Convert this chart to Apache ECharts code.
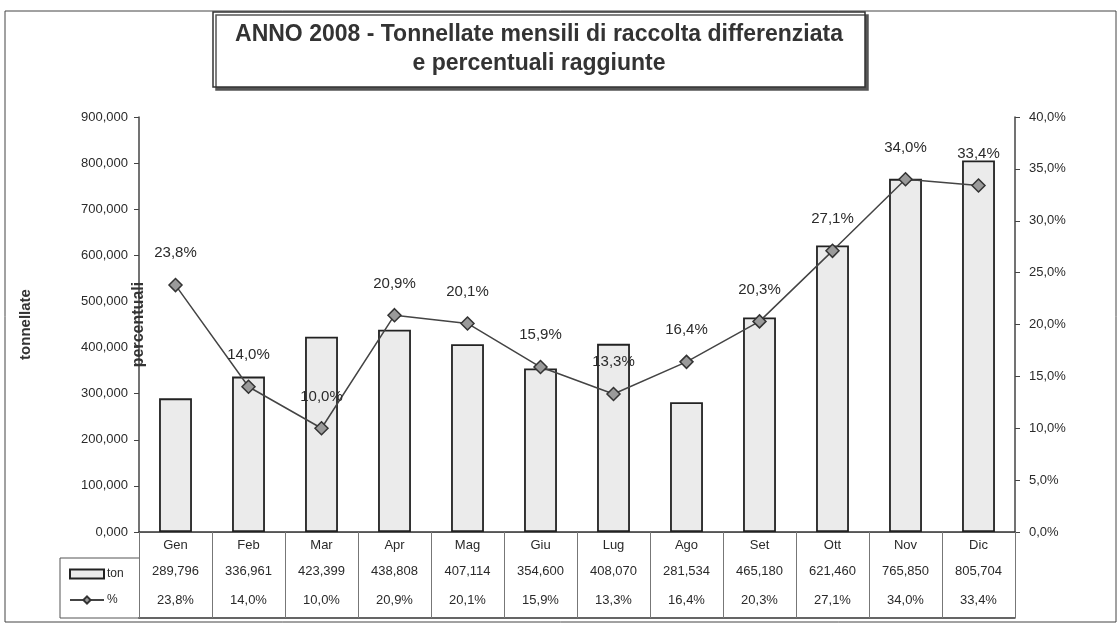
<!DOCTYPE html>
<html>
<head>
<meta charset="utf-8">
<title>ANNO 2008</title>
<script src="https://cdn.jsdelivr.net/npm/echarts@6/dist/echarts.min.js"></script>
<style>
    html, body {margin: 0; padding: 0; background: #fff;}
    #main {width: 1119px; height: 626px;}
</style>
</head>
<body>
<div id="main"></div>
<script>
// dati
var mesi = ['Gen', 'Feb', 'Mar', 'Apr', 'Mag', 'Giu', 'Lug', 'Ago', 'Set', 'Ott', 'Nov', 'Dic'];
var tonnellate = [289.796, 336.961, 423.399, 438.808, 407.114, 354.600, 408.070, 281.534, 465.180, 621.460, 765.850, 805.704];
var percentuali = [23.8, 14.0, 10.0, 20.9, 20.1, 15.9, 13.3, 16.4, 20.3, 27.1, 34.0, 33.4];
var tickTon = [0, 100, 200, 300, 400, 500, 600, 700, 800, 900];
var tickPerc = [0, 5, 10, 15, 20, 25, 30, 35, 40];

(function (echarts) {
    var fmtTon = function (v) {
        return Number(v).toFixed(3).replace('.', ',');
    };
    var fmtPerc = function (v) {
        return Number(v).toFixed(1).replace('.', ',') + '%';
    };
    var font = 'Arial, "Liberation Sans", sans-serif';
    var txt = '#2a2a2a';

    var chart = echarts.init(document.getElementById('main'));

    //righe della tabella sotto il grafico
    var rigaTon = tonnellate.map(fmtTon);
    var rigaPerc = percentuali.map(fmtPerc);

    var option = {
        backgroundColor: '#fff',
        animation: false,
        title: {
            text: 'ANNO 2008 - Tonnellate mensili di raccolta differenziata\ne percentuali raggiunte',
            left: 517,
            top: 12,
            textAlign: 'center',
            padding: [8, 22, 9, 22],
            borderColor: '#333',
            borderWidth: 1.5,
            backgroundColor: '#fff',
            shadowColor: '#555',
            shadowOffsetX: 3,
            shadowOffsetY: 3,
            shadowBlur: 0,
            textStyle: {
                fontFamily: font,
                fontSize: 23,
                fontWeight: 'bold',
                color: '#333',
                lineHeight: 29
            }
        },
        legend: {
            orient: 'vertical',
            left: 64,
            top: 563,
            itemWidth: 34,
            itemHeight: 9,
            itemGap: 14,
            textStyle: {fontFamily: font, fontSize: 12, color: txt, padding: [0, 0, 0, -2]},
            data: [{name: 'ton', icon: 'rect'}, {name: '%'}]
        },
        grid: {left: 139, right: 104, top: 117, bottom: 94},
        xAxis: [
            {
                type: 'category',
                data: mesi,
                position: 'bottom',
                axisLine: {lineStyle: {color: '#333', width: 1.5}},
                axisTick: {show: true, interval: 0, length: 86, lineStyle: {color: '#777', width: 1}},
                axisLabel: {interval: 0, margin: 7, fontFamily: font, fontSize: 13, color: txt}
            },
            {
                type: 'category',
                data: rigaTon,
                position: 'bottom',
                offset: 26,
                axisLine: {lineStyle: {color: '#555', width: 1}},
                axisTick: {show: false},
                axisLabel: {interval: 0, margin: 7, fontFamily: font, fontSize: 13, color: txt}
            },
            {
                type: 'category',
                data: rigaPerc,
                position: 'bottom',
                offset: 55,
                axisLine: {show: false},
                axisTick: {show: false},
                axisLabel: {interval: 0, margin: 7, fontFamily: font, fontSize: 13, color: txt}
            },
            {
                type: 'category',
                data: mesi,
                position: 'bottom',
                offset: 86,
                axisLine: {lineStyle: {color: '#333', width: 1.5}},
                axisTick: {show: false},
                axisLabel: {show: false}
            }
        ],
        yAxis: [
            {
                type: 'value',
                min: tickTon[0],
                max: tickTon[tickTon.length - 1],
                interval: tickTon[1] - tickTon[0],
                name: 'tonnellate',
                nameLocation: 'middle',
                nameRotate: 90,
                nameGap: 106,
                nameTextStyle: {fontFamily: font, fontSize: 15, fontWeight: 'bold', color: '#333'},
                axisLine: {show: true, lineStyle: {color: '#444', width: 1.5}},
                axisTick: {show: true, length: 5, lineStyle: {color: '#444'}},
                splitLine: {show: false},
                axisLabel: {margin: 11, fontFamily: font, fontSize: 13, color: txt, formatter: fmtTon}
            },
            {
                type: 'value',
                min: tickPerc[0],
                max: tickPerc[tickPerc.length - 1],
                interval: tickPerc[1] - tickPerc[0],
                position: 'right',
                name: 'percentuali',
                nameLocation: 'middle',
                nameRotate: 90,
                nameGap: -884,
                nameTextStyle: {fontFamily: font, fontSize: 16, fontWeight: 'bold', color: '#333'},
                axisLine: {show: true, lineStyle: {color: '#444', width: 1.5}},
                axisTick: {show: true, length: 5, lineStyle: {color: '#444'}},
                splitLine: {show: false},
                axisLabel: {margin: 14, fontFamily: font, fontSize: 13, color: txt, formatter: fmtPerc}
            }
        ],
        series: [
            {
                name: 'ton',
                type: 'bar',
                xAxisIndex: 0,
                yAxisIndex: 0,
                barWidth: '45%',
                data: tonnellate,
                itemStyle: {color: '#ebebeb', borderColor: '#222', borderWidth: 1.8}
            },
            {
                name: '%',
                type: 'line',
                xAxisIndex: 0,
                yAxisIndex: 1,
                data: percentuali,
                symbol: 'diamond',
                symbolSize: 13,
                lineStyle: {color: '#444', width: 1.5},
                itemStyle: {color: '#9a9a9a', borderColor: '#333', borderWidth: 1.5},
                label: {
                    show: true,
                    position: 'top',
                    distance: 17,
                    fontFamily: font,
                    fontSize: 15,
                    color: txt,
                    formatter: function (p) {
                        return fmtPerc(p.value);
                    }
                }
            }
        ],
        //cornice e colonna della legenda
        graphic: [
            {
                type: 'rect',
                silent: true,
                shape: {x: 5, y: 11, width: 1111, height: 611},
                style: {fill: 'none', stroke: '#444', lineWidth: 1}
            },
            {
                type: 'polyline',
                silent: true,
                shape: {points: [[139, 558], [60, 558], [60, 618], [139, 618]]},
                style: {fill: 'none', stroke: '#555', lineWidth: 1}
            }
        ]
    };
    chart.setOption(option);
})(echarts);
</script>
</body>
</html>
